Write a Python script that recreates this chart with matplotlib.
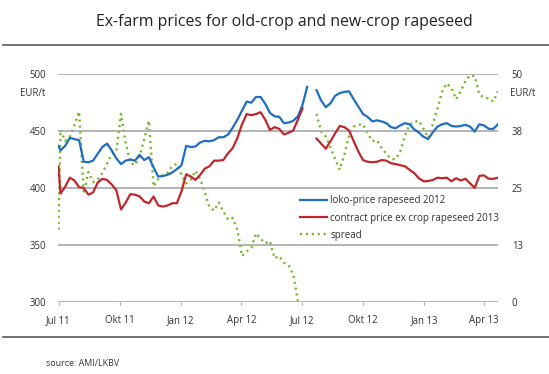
import numpy as np
import pandas as pd
import matplotlib
matplotlib.use("Agg")
import matplotlib.pyplot as plt
from matplotlib.lines import Line2D

plt.rcParams['font.family'] = ['Open Sans', 'DejaVu Sans']

nan = np.nan
# dates: first quote on 1 Jul 2011, then weekly from 4 Jul 2011
dates = [pd.Timestamp("2011-07-01")] + list(pd.date_range("2011-07-04", periods=95, freq="7D"))

loko_2012 = [437,
    433, 437, 444, 443, 442, 423, 422.6, 424, 430, 436,
    439, 433, 426, 421, 424, 425, 424, 429, 424.5, 427,
    418, 410, 410.5, 411.5, 413.5, 416.5, 420, 437, 436, 436.5,
    440, 441.4, 441, 442, 444.6, 444.6, 447, 453, 460, 468,
    476, 475, 480, 480, 474, 466, 463, 462.6, 457, 457.5,
    459, 463, 473, 489, nan,
    486, 477, 471, 474.5, 481, 483.5, 484.5, 485, 478, 471.5,
    465, 462.5, 458.5, 459.5, 458.5, 457, 453.5, 452.5, 455, 457,
    456, 451.5, 448.7, 445, 443, 449, 454, 456, 457, 454.5,
    454, 454.5, 455.5, 454, 449.6, 456, 455, 452, 452, 456]

contract_2013 = [419,
    395, 401, 409, 406.5, 400.6, 400, 394, 396, 404.7, 408,
    407, 403, 398, 381, 387, 394.5, 394, 392.5, 388, 386.5,
    392.4, 384.5, 383.6, 384.5, 386.5, 386.5, 397, 412, 410, 407,
    411.4, 417, 419, 424, 424, 424.6, 430.5, 435, 444, 456,
    465, 464, 465, 466.6, 460, 451, 453.5, 452, 447, 448.5,
    450.5, 460, 470, nan, nan,
    443.5, 439, 434.5, 441, 448, 454.5, 453.5, 450.5, 441, 432,
    424.5, 423, 422.6, 423, 424.5, 424, 421.7, 421, 420, 419,
    416, 413, 408.5, 405.8, 406, 407, 409, 408.5, 409, 405.8,
    408.5, 406.5, 408, 404, 400, 410.6, 411, 408, 408, 409]

spread = [15.8,
    37.8, 35.3, 36.3, 38.8, 41.8, 23.8, 28.5, 26.3, 26.8, 28.3,
    30.3, 32.5, 33, 41.3, 35, 30.5, 30, 32, 35.8, 39.8,
    25.3, 27, 27.8, 28.3, 29.8, 30.3, 27.8, 26, 26.8, 28.8,
    27, 24, 20.8, 20, 21.8, 19.8, 18, 18.4, 15.8, 10,
    11, 11.8, 15, 13.8, 12.8, 13.3, 9.5, 10, 8.5, 8,
    6, 0, nan, nan, nan,
    41.3, 37.4, 36.3, 34, 31.3, 29, 32.3, 36.5, 38.5, 38.9,
    39, 37, 35.3, 35.5, 33.8, 32.5, 31.4, 31.3, 33, 36.5,
    38.9, 39.5, 39.8, 38, 36, 39, 42.5, 46.2, 48, 47,
    44.5, 46.3, 48.5, 49.8, 49.6, 45.5, 44.9, 44.7, 44, 46.3]

left_ticks = [300, 350, 400, 450, 500]
right_ticks = [0, 12.5, 25, 37.5, 50]
right_labels = ["0", "13", "25", "38", "50"]
xtick_dates = pd.to_datetime(["2011-07-01", "2011-10-01", "2012-01-01", "2012-04-01",
                              "2012-07-01", "2012-10-01", "2013-01-01", "2013-04-01"])
xtick_labels = ["Jul 11", "Okt 11", "Jan 12", "Apr 12", "Jul 12", "Okt 12", "Jan 13", "Apr 13"]
series_names = ["loko-price rapeseed 2012", "contract price ex crop rapeseed 2013", "spread"]

W, H = 549, 374
fig = plt.figure(figsize=(W / 100, H / 100), dpi=100)
fig.patch.set_facecolor("white")

ax = fig.add_axes([58.5 / W, 72.5 / H, 439.5 / W, 227.2 / H])
ax2 = ax.twinx()

blue = "#1f6ec2"
red = "#c0272d"
green = "#7ab52c"
grid_c = "#a8a8a8"
txt_c = "#333333"
dots = (0, (0.9, 1.6))

ax.plot(dates, loko_2012, color=blue, lw=1.6, zorder=3)
ax.plot(dates, contract_2013, color=red, lw=1.6, zorder=3)
ax2.plot(dates, spread, color=green, lw=1.7, linestyle=dots, zorder=2)

ax.set_ylim(300, 500)
ax2.set_ylim(0, 50)
ax.set_xlim(pd.Timestamp("2011-07-01"), pd.Timestamp("2013-04-22"))

for a in (ax, ax2):
    for s in a.spines.values():
        s.set_visible(False)
    a.patch.set_visible(False)

ax.set_yticks(left_ticks)
ax.set_yticklabels([str(v) for v in left_ticks])
for v in left_ticks:
    ax.axhline(v, color=grid_c, lw=1.2, zorder=1)
ax.tick_params(axis="y", length=0, pad=9, labelsize=6.9, labelcolor=txt_c)

ax2.set_yticks(right_ticks)
ax2.set_yticklabels(right_labels)
ax2.tick_params(axis="y", length=0, pad=10, labelsize=6.9, labelcolor=txt_c)

ax.set_xticks(xtick_dates)
ax.set_xticklabels(xtick_labels)
ax.tick_params(axis="x", length=2.5, width=0.8, color=grid_c, direction="out",
               pad=7, labelsize=6.9, labelcolor=txt_c)
ax.set_zorder(ax2.get_zorder() + 1)

fig.text(45.5 / W, 1 - 93.5 / H, "EUR/t", ha="right", va="center", fontsize=6.9, color=txt_c)
fig.text(510 / W, 1 - 93.5 / H, "EUR/t", ha="left", va="center", fontsize=6.9, color=txt_c)

fig.text(284.5 / W, 1 - 21.5 / H, "Ex-farm prices for old-crop and new-crop rapeseed",
         ha="center", va="center", fontsize=11.4, color="#222222")

fig.add_artist(Line2D([3 / W, 1], [1 - 44.5 / H] * 2, color="#5a5a5a", lw=1.2))
fig.add_artist(Line2D([3 / W, 1], [1 - 337 / H] * 2, color="#5a5a5a", lw=1.2))

fig.text(46 / W, 1 - 364 / H, "source: AMI/LKBV", ha="left", va="center", fontsize=6.4, color=txt_c)

handles = [Line2D([], [], color=blue, lw=1.6),
           Line2D([], [], color=red, lw=1.6),
           Line2D([], [], color=green, lw=1.7, linestyle=dots)]
leg = ax.legend(handles, series_names, loc="upper left",
                bbox_to_anchor=((300 - 58.5) / 439.5, (301.5 - 195.5) / 227.2),
                frameon=False, fontsize=7.0, handlelength=2.8, handletextpad=0.3,
                labelspacing=0.62, borderpad=0, borderaxespad=0)
for t in leg.get_texts():
    t.set_color(txt_c)

fig.savefig("out.png", dpi=100, facecolor="white")
